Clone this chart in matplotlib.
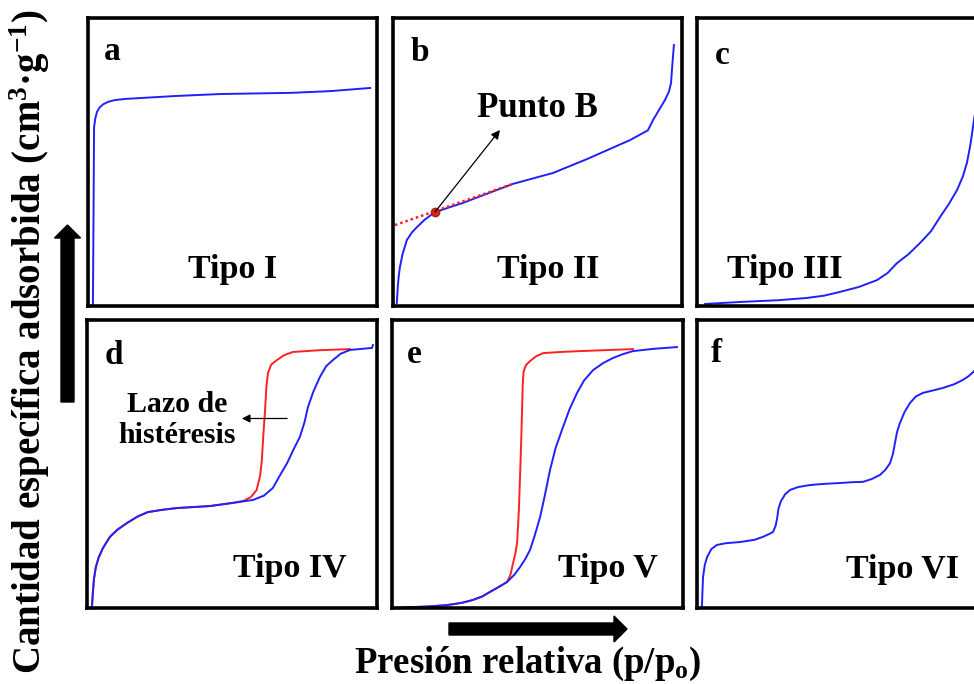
import numpy as np
import matplotlib.pyplot as plt
from matplotlib.patches import FancyArrow

plt.rcParams['font.family'] = ['Liberation Serif', 'DejaVu Serif']
plt.rcParams['font.weight'] = 'bold'

BLUE = '#2020ff'
RED = '#ff2020'

# isotherm traces, relative pressure (x) vs adsorbed amount (y), both normalised 0-1
tipo1_x = [0.017, 0.019, 0.021, 0.025, 0.031, 0.04, 0.052, 0.07, 0.093, 0.13, 0.18, 0.30, 0.457, 0.70, 0.837, 0.976]
tipo1_y = [0.0, 0.3, 0.62, 0.65, 0.674, 0.689, 0.70, 0.709, 0.715, 0.719, 0.722, 0.729, 0.736, 0.74, 0.746, 0.757]

tipo2_x = [0.013, 0.015, 0.017, 0.02, 0.024, 0.033, 0.048, 0.065, 0.083, 0.11, 0.145, 0.242, 0.415,
           0.554, 0.671, 0.82, 0.882, 0.90, 0.92, 0.941, 0.955, 0.962, 0.966, 0.972]
tipo2_y = [0.01, 0.04, 0.073, 0.105, 0.135, 0.18, 0.229, 0.255, 0.274, 0.30, 0.326, 0.358, 0.424,
           0.462, 0.51, 0.576, 0.61, 0.646, 0.68, 0.715, 0.745, 0.774, 0.83, 0.906]
tangente_x = [0.007, 0.415]
tangente_y = [0.281, 0.424]
punto_b = (0.145, 0.326)

tipo3_x = [0.028, 0.149, 0.28, 0.381, 0.44, 0.495, 0.56, 0.623, 0.66, 0.692, 0.732, 0.772, 0.81,
           0.841, 0.872, 0.90, 0.92, 0.934, 0.946, 0.955, 0.962, 0.969, 0.98]
tipo3_y = [0.007, 0.014, 0.02, 0.028, 0.036, 0.049, 0.066, 0.09, 0.115, 0.149, 0.18, 0.219, 0.26,
           0.309, 0.355, 0.403, 0.45, 0.497, 0.56, 0.622, 0.67, 0.715, 0.82]

tipo4_ads_x = [0.017, 0.02, 0.024, 0.03, 0.04, 0.055, 0.079, 0.105, 0.138, 0.175, 0.21, 0.26, 0.31, 0.424,
               0.503, 0.572, 0.61, 0.641, 0.665, 0.69, 0.712, 0.734, 0.75, 0.762, 0.78, 0.803, 0.825,
               0.848, 0.875, 0.907, 0.95, 0.983, 0.986]
tipo4_ads_y = [0.003, 0.05, 0.1, 0.14, 0.175, 0.208, 0.247, 0.272, 0.295, 0.318, 0.333, 0.341, 0.347, 0.354,
               0.365, 0.375, 0.39, 0.417, 0.46, 0.503, 0.55, 0.594, 0.645, 0.698, 0.75, 0.802, 0.84,
               0.861, 0.883, 0.896, 0.90, 0.903, 0.913]
tipo4_des_x = [0.017, 0.02, 0.024, 0.03, 0.04, 0.055, 0.079, 0.105, 0.138, 0.175, 0.21, 0.26, 0.31, 0.424,
               0.503, 0.54, 0.565, 0.585, 0.597, 0.603, 0.608, 0.614, 0.618, 0.624, 0.635, 0.655,
               0.68, 0.71, 0.80, 0.907]
tipo4_des_y = [0.003, 0.05, 0.1, 0.14, 0.175, 0.208, 0.247, 0.272, 0.295, 0.318, 0.333, 0.341, 0.347, 0.354,
               0.365, 0.372, 0.385, 0.41, 0.46, 0.514, 0.60, 0.688, 0.76, 0.816, 0.845, 0.861,
               0.878, 0.889, 0.895, 0.899]

tipo5_ads_x = [0.02, 0.062, 0.12, 0.189, 0.24, 0.278, 0.31, 0.337, 0.365, 0.395, 0.42, 0.44, 0.458, 0.474,
               0.49, 0.509, 0.525, 0.543, 0.562, 0.584, 0.61, 0.636, 0.66, 0.691, 0.725, 0.759, 0.795,
               0.828, 0.90, 0.979]
tipo5_ads_y = [0.0, 0.003, 0.005, 0.01, 0.018, 0.028, 0.04, 0.056, 0.072, 0.09, 0.115, 0.142, 0.17, 0.201,
               0.25, 0.316, 0.39, 0.479, 0.555, 0.618, 0.69, 0.747, 0.79, 0.826, 0.85, 0.868, 0.882,
               0.892, 0.90, 0.906]
tipo5_des_x = [0.02, 0.062, 0.12, 0.189, 0.24, 0.278, 0.31, 0.337, 0.365, 0.395, 0.407, 0.416, 0.424, 0.43,
               0.436, 0.44, 0.444, 0.447, 0.449, 0.452, 0.46, 0.475, 0.495, 0.519, 0.58, 0.646, 0.828]
tipo5_des_y = [0.0, 0.003, 0.005, 0.01, 0.018, 0.028, 0.04, 0.056, 0.072, 0.09, 0.115, 0.156, 0.19, 0.226,
               0.34, 0.455, 0.58, 0.688, 0.77, 0.82, 0.843, 0.858, 0.874, 0.885, 0.889, 0.892, 0.899]

tipo6_x = [0.017, 0.019, 0.021, 0.027, 0.035, 0.05, 0.069, 0.10, 0.149, 0.20, 0.228, 0.25, 0.263, 0.272,
           0.277, 0.282, 0.29, 0.305, 0.322, 0.35, 0.391, 0.44, 0.495, 0.54, 0.574, 0.605, 0.633, 0.652,
           0.668, 0.678, 0.685, 0.692, 0.702, 0.718, 0.737, 0.758, 0.782, 0.815, 0.851, 0.89, 0.92,
           0.94, 0.955, 0.975, 0.997]
tipo6_y = [0.003, 0.06, 0.108, 0.15, 0.177, 0.205, 0.219, 0.225, 0.229, 0.237, 0.247, 0.257, 0.264, 0.285,
           0.31, 0.345, 0.37, 0.395, 0.41, 0.42, 0.427, 0.431, 0.434, 0.437, 0.438, 0.448, 0.462, 0.48,
           0.503, 0.535, 0.573, 0.61, 0.642, 0.68, 0.712, 0.735, 0.747, 0.755, 0.764, 0.777, 0.792,
           0.805, 0.819, 0.84, 0.861]

letras = ['a', 'b', 'c', 'd', 'e', 'f']
tipos = ['Tipo I', 'Tipo II', 'Tipo III', 'Tipo IV', 'Tipo V', 'Tipo VI']

W, H = 974, 684
fig = plt.figure(figsize=(W / 100, H / 100), dpi=100)

# panel boxes in pixels: left, top, width, height
cajas = [(88, 18, 289, 288), (393, 18, 289, 288), (697, 18, 289, 288),
         (87, 320, 290, 288), (392, 320, 291, 288), (697, 320, 289, 288)]
pos_letra = [(0.083, 0.885), (0.093, 0.88), (0.087, 0.87),
             (0.093, 0.878), (0.076, 0.88), (0.066, 0.885)]
pos_tipo = [(0.50, 0.097), (0.538, 0.097), (0.305, 0.097),
            (0.70, 0.108), (0.742, 0.108), (0.71, 0.104)]

axes = []
for i, (l, t, w, h) in enumerate(cajas):
    ax = fig.add_axes([l / W, (H - t - h) / H, w / W, h / H])
    ax.set_xlim(0, 1)
    ax.set_ylim(0, 1)
    ax.set_xticks([])
    ax.set_yticks([])
    for s in ax.spines.values():
        s.set_linewidth(2.6)
        s.set_color('black')
    ax.text(*pos_letra[i], letras[i], transform=ax.transAxes, fontsize=24,
            ha='center', va='center', fontweight='bold')
    ax.text(*pos_tipo[i], tipos[i], transform=ax.transAxes, fontsize=24.5,
            ha='center', va='baseline', fontweight='bold')
    axes.append(ax)

lw = 1.4
axes[0].plot(tipo1_x, tipo1_y, color=BLUE, lw=lw)

axes[1].plot(tipo2_x, tipo2_y, color=BLUE, lw=lw)
axes[1].plot(tangente_x, tangente_y, color=RED, lw=1.8, ls=(0, (1, 1.2)))
axes[1].plot(*punto_b, 'o', color='#d02a1a', markersize=6, markeredgecolor='#b02010')
axes[1].annotate('', xy=(0.37, 0.611), xytext=punto_b,
                 arrowprops=dict(arrowstyle='-|>', color='black', lw=0.9, mutation_scale=13,
                                 shrinkA=0, shrinkB=0))
axes[1].text(0.50, 0.687, 'Punto B', transform=axes[1].transAxes, fontsize=25,
             ha='center', va='center', fontweight='bold')

axes[2].plot(tipo3_x, tipo3_y, color=BLUE, lw=lw)

axes[3].plot(tipo4_des_x, tipo4_des_y, color=RED, lw=lw)
axes[3].plot(tipo4_ads_x, tipo4_ads_y, color=BLUE, lw=lw)
axes[3].text(0.31, 0.653, 'Lazo de\nhistéresis', transform=axes[3].transAxes, fontsize=21.5,
             ha='center', va='center', fontweight='bold', linespacing=1.2)
axes[3].annotate('', xy=(0.534, 0.658), xytext=(0.69, 0.658),
                 arrowprops=dict(arrowstyle='-|>', color='black', lw=0.9, mutation_scale=12,
                                 shrinkA=0, shrinkB=0))

axes[4].plot(tipo5_des_x, tipo5_des_y, color=RED, lw=lw)
axes[4].plot(tipo5_ads_x, tipo5_ads_y, color=BLUE, lw=lw)

axes[5].plot(tipo6_x, tipo6_y, color=BLUE, lw=lw)

# big direction arrows for the shared axes, drawn in inches
fig.add_artist(FancyArrow(0.675, 2.82, 0, 1.77, width=0.13, head_width=0.26, head_length=0.13,
                          length_includes_head=True, color='black',
                          transform=fig.dpi_scale_trans))
fig.add_artist(FancyArrow(4.49, 0.55, 1.78, 0, width=0.12, head_width=0.26, head_length=0.13,
                          length_includes_head=True, color='black',
                          transform=fig.dpi_scale_trans))

fig.text(30 / W, 1 - 342 / H, r'Cantidad específica adsorbida (cm$\mathregular{^3}$·g$\mathregular{^{-1}}$)',
         rotation=90, fontsize=28, fontweight='bold', ha='center', va='center')
fig.text(528 / W, 1 - 664 / H, r'Presión relativa (p/p$\mathregular{_o}$)',
         fontsize=26.5, fontweight='bold', ha='center', va='center')

fig.savefig('out.png', dpi=100)
